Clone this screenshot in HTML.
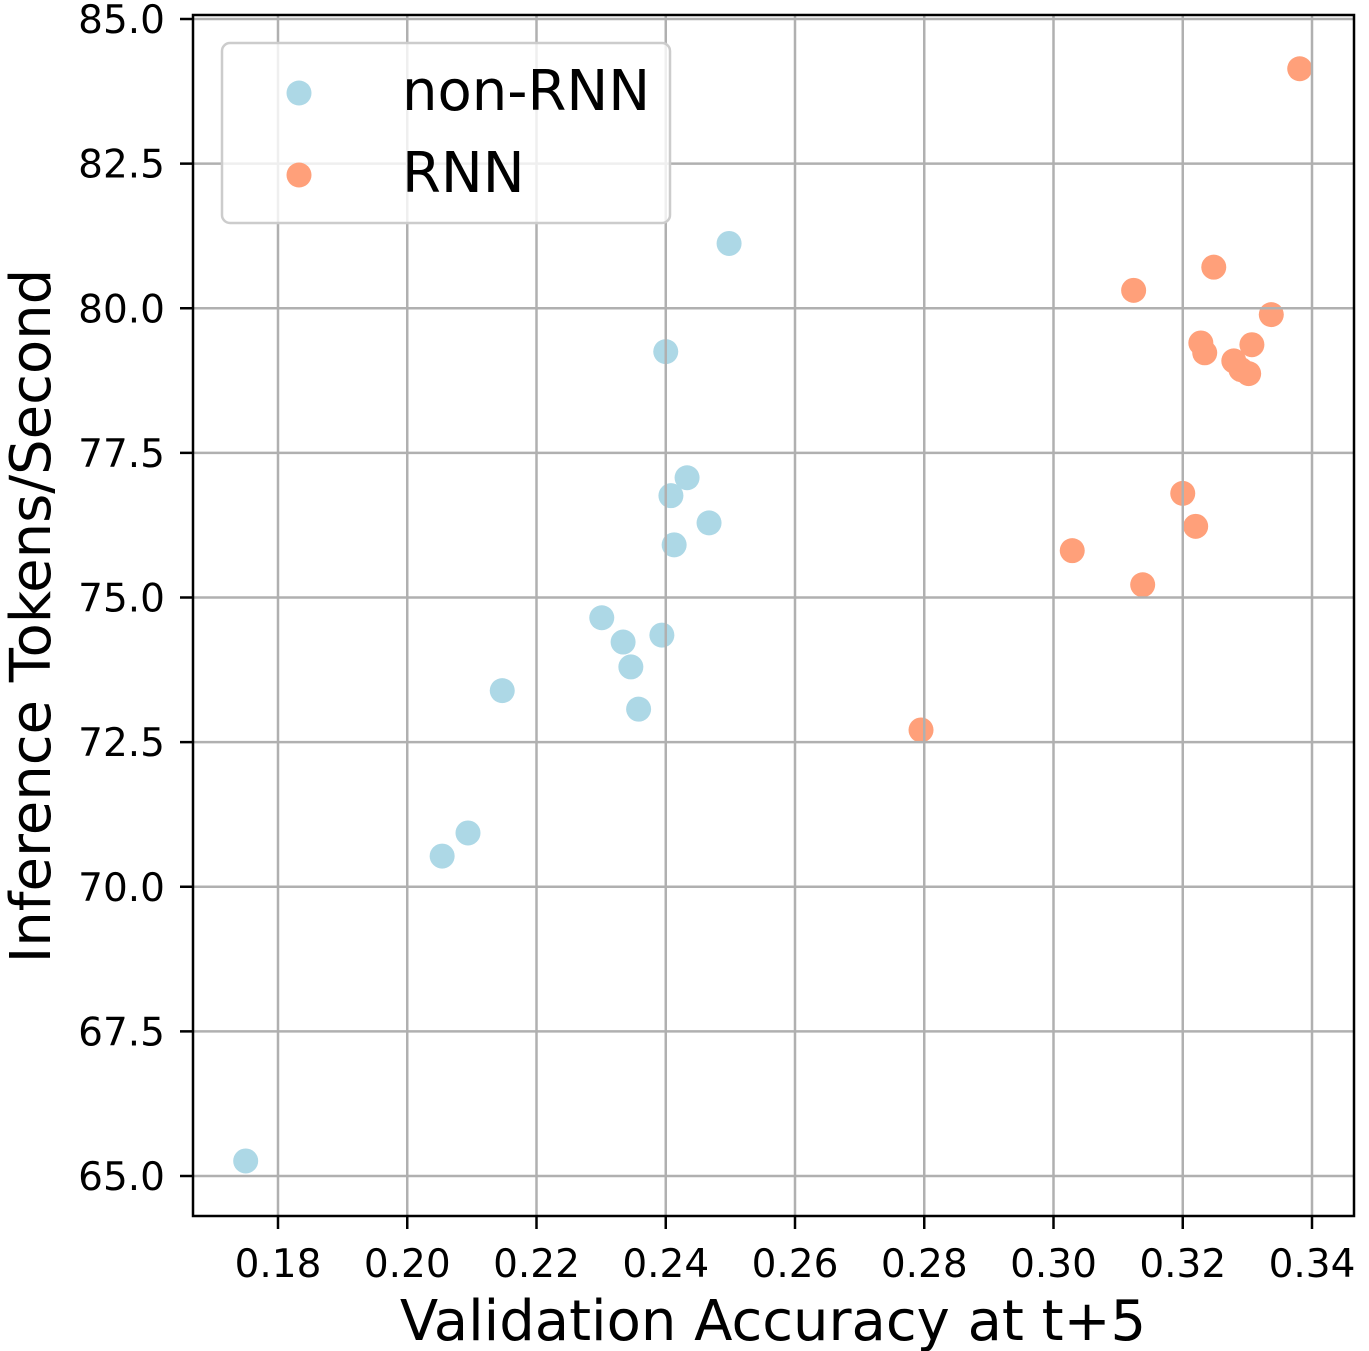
<!DOCTYPE html>
<html><head><meta charset="utf-8"><style>
html,body{margin:0;padding:0;background:#fff}
svg{display:block;font-family:"DejaVu Sans","Liberation Sans",sans-serif}
</style></head><body>
<svg id="chart" width="1369" height="1351" xmlns="http://www.w3.org/2000/svg">
<g id="grid"></g>
<g id="points"></g>
<g id="axes"></g>
<text x="773" y="1340" font-size="56" text-anchor="middle">Validation Accuracy at t+5</text>
<text transform="translate(50,616) rotate(-90)" font-size="56" text-anchor="middle">Inference Tokens/Second</text>
<g>
<rect x="222" y="43" width="448" height="180" rx="8" fill="#fff" fill-opacity="0.8" stroke="#ccc" stroke-width="2.5"/>
<circle cx="299" cy="93" r="12.5" fill="#add8e6"/>
<text x="402" y="110" font-size="56">non-RNN</text>
<circle cx="299" cy="175" r="12.5" fill="#ffa07a"/>
<text x="402" y="192" font-size="56">RNN</text>
</g>
</svg>
<script>
const nonRnnX=[0.1750,0.2054,0.2094,0.2147,0.2301,0.2334,0.2346,0.2358,0.2394,0.2400,0.2408,0.2413,0.2433,0.2467,0.2498];
const nonRnnY=[65.26,70.53,70.93,73.39,74.65,74.23,73.80,73.07,74.35,79.25,76.76,75.91,77.07,76.29,81.12];
const rnnX=[0.3381,0.3248,0.3124,0.3337,0.3228,0.3234,0.3307,0.3279,0.3290,0.3302,0.3200,0.3220,0.3029,0.3138,0.2795];
const rnnY=[84.14,80.71,80.31,79.89,79.40,79.23,79.37,79.09,78.94,78.87,76.80,76.23,75.81,75.22,72.71];
const xTicks=[0.18,0.20,0.22,0.24,0.26,0.28,0.30,0.32,0.34];
const yTicks=[65.0,67.5,70.0,72.5,75.0,77.5,80.0,82.5,85.0];

const L=193,R=1354,T=15,B=1216;
const xs=v=>278+(v-0.18)/0.02*129.25;
const ys=v=>1176-(v-65)/2.5*144.625;
const NS='http://www.w3.org/2000/svg';
function mk(tag,attrs,parent){const e=document.createElementNS(NS,tag);for(const k in attrs)e.setAttribute(k,attrs[k]);parent.appendChild(e);return e;}
const grid=document.getElementById('grid'),pts=document.getElementById('points'),axes=document.getElementById('axes');
nonRnnX.forEach((v,i)=>{const c=mk('circle',{cx:xs(v),cy:ys(nonRnnY[i]),r:12.5,fill:'#add8e6'},pts);

});
rnnX.forEach((v,i)=>{const c=mk('circle',{cx:xs(v),cy:ys(rnnY[i]),r:12.5,fill:'#ffa07a'},pts);

});
const gg=document.createElementNS(NS,'g');pts.parentNode.insertBefore(gg,axes);
xTicks.forEach(t=>{const x=xs(t);
const g=mk('line',{x1:x,x2:x,y1:T,y2:B,stroke:'#b0b0b0','stroke-width':2.5},gg);


mk('line',{x1:x,x2:x,y1:B,y2:B+13,stroke:'#000','stroke-width':2.5},axes);
const tx=mk('text',{x:x,y:B+61,'font-size':39,'text-anchor':'middle'},axes);tx.textContent=t.toFixed(2);

});
yTicks.forEach(t=>{const y=ys(t);
const g=mk('line',{x1:L,x2:R,y1:y,y2:y,stroke:'#b0b0b0','stroke-width':2.5},gg);


mk('line',{x1:L-13,x2:L,y1:y,y2:y,stroke:'#000','stroke-width':2.5},axes);
const tx=mk('text',{x:L-28,y:y+14,'font-size':39,'text-anchor':'end'},axes);tx.textContent=t.toFixed(1);

});
const fr=mk('rect',{x:L,y:T,width:R-L,height:B-T,fill:'none',stroke:'#000','stroke-width':2.5},axes);


</script>
</body></html>
